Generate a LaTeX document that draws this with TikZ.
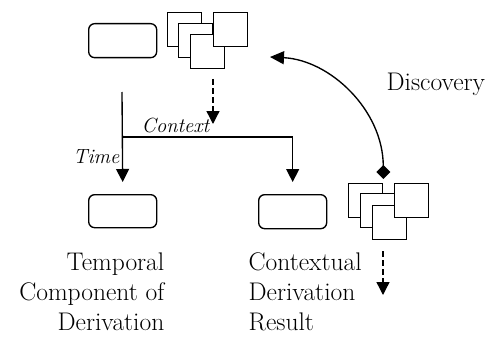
\documentclass[tikz,border=0pt]{standalone}
\usepackage{fontspec}
\usetikzlibrary{arrows.meta}
\begin{document}
\begin{tikzpicture}[x=1pt,y=-1pt,
  line width=1.35pt,
  rbox/.style={draw, rounded corners=6pt, minimum width=68pt, minimum height=34pt, inner sep=0, anchor=north west},
  sq/.style={draw, fill=white, minimum size=34pt, inner sep=0, anchor=north west},
  tip/.style={-{Triangle[length=13pt,width=13pt]}},
  dsh/.style={dash pattern=on 6pt off 3pt},
  lbl/.style={font=\fontsize{25.5}{30}\selectfont, inner sep=0},
  ital/.style={font=\itshape\fontsize{20.5}{26}\selectfont, inner sep=0}]

% canvas
\fill[white] (0,0) rectangle (498,337);
\useasboundingbox (0,0) rectangle (498,337);

% top: derivation box and its stack of context documents
\node[rbox] (tbox) at (88,23) {};
\node[sq] (ts1) at (167,12) {};
\node[sq] (ts2) at (178,23) {};
\node[sq] (ts3) at (190,34) {};
\node[sq] (ts4) at (213,12) {};

% bottom: temporal component and contextual result
\node[rbox, minimum height=33pt] (bl) at (88,194) {};
\node[rbox] (br) at (258,194) {};

% discovered documents
\node[sq] (bs1) at (348,183) {};
\node[sq] (bs2) at (360,193) {};
\node[sq] (bs3) at (372,205) {};
\node[sq] (bs4) at (394,183) {};

% helper points
\coordinate (ctxfrom) at (213,79);
\coordinate (ctxto) at (213,124);
\coordinate (trunk) at (122,92);
\coordinate (branch) at (122,137);
\coordinate (disctip) at (270,57);
\coordinate (outfrom) at (383,251);
\coordinate (outto) at (383,295);

% connectors
\draw[tip, dsh] (ctxfrom) -- (ctxto);
\draw[tip] (trunk) -- ([yshift=12pt]bl.north);
\draw[tip] (branch) -| ([yshift=12pt]br.north);
\draw[{Diamond[length=14pt,width=14pt]}-{Triangle[length=14pt,width=13pt]}]
  ([yshift=4pt]bs1.north east) .. controls (383,110) and (330,60) .. (disctip);
\draw[tip, dsh] (outfrom) -- (outto);

% labels
\node[ital, anchor=base west] (ctx) at (141,132) {Context};
\node[ital, anchor=base east] (time) at (120,163) {Time};
\node[lbl, anchor=base west] (disc) at (386,90) {Discovery};
\node[lbl, align=right, anchor=north east] (tlabel) at (165,252) {Temporal\\Component of\\Derivation};
\node[lbl, align=left, anchor=north west] (clabel) at (248,252) {Contextual\\Derivation\\Result};
\end{tikzpicture}
\end{document}
